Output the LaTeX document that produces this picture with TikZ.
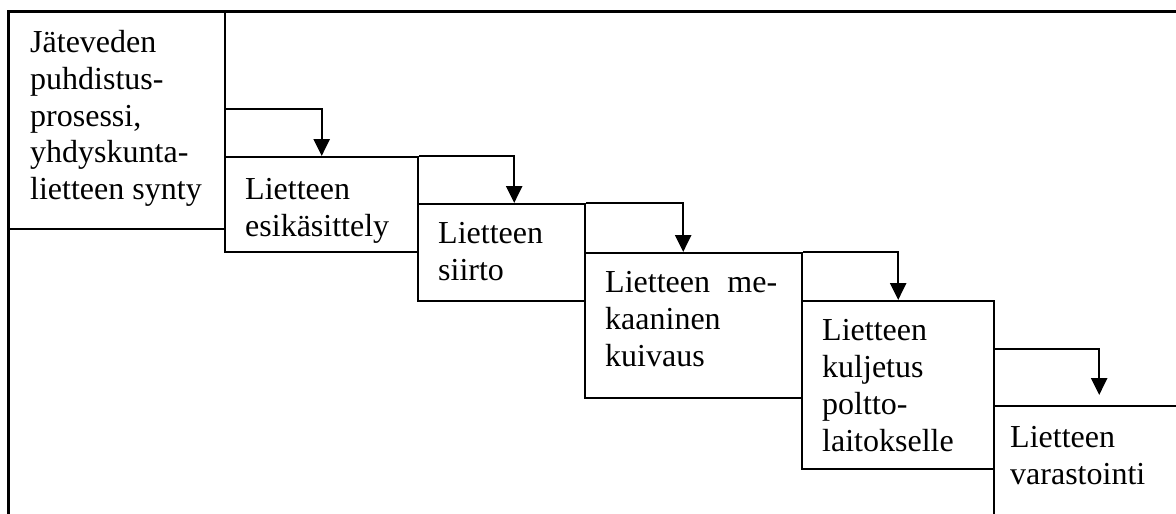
\documentclass[tikz,border=0pt]{standalone}
\usepackage{fontspec}
\setmainfont{Liberation Serif}
\usetikzlibrary{arrows.meta}
\begin{document}
\begin{tikzpicture}[x=1pt,y=-1pt,
  box/.style={draw, line width=2.4pt, rectangle, inner sep=0pt, anchor=north west},
  frameline/.style={line width=3pt},
  arr/.style={line width=2.4pt, -{Triangle[length=17pt,width=16pt]}},
  txt/.style={inner sep=0pt, anchor=base west, font=\fontsize{32}{37}\selectfont}]
\useasboundingbox (0,0) rectangle (1176,514);
\clip (0,0) rectangle (1176,514);
% outer frame (top and left)
\draw[frameline] (8,540) -- (8,11) -- (1200,11);
% process step boxes
\node[box, minimum width=216pt, minimum height=217pt] (b1) at (8,11) {};
\node[box, minimum width=193pt, minimum height=95pt]  (b2) at (224,156) {};
\node[box, minimum width=167pt, minimum height=97pt]  (b3) at (417,203) {};
\node[box, minimum width=217pt, minimum height=145pt] (b4) at (584,252) {};
\node[box, minimum width=192pt, minimum height=168pt] (b5) at (801,300) {};
\node[box, minimum width=220pt, minimum height=140pt] (b6) at (993,405) {};
% step texts
\node[txt] (t1) at ([xshift=22pt,yshift=-41pt]b1.north west)
  {\parbox[t]{200pt}{Jäteveden\\puhdistus-\\prosessi,\\yhdyskunta-\\lietteen synty}};
\node[txt] (t2) at ([xshift=21pt,yshift=-43pt]b2.north west)
  {\parbox[t]{180pt}{Lietteen\\esikäsittely}};
\node[txt] (t3) at ([xshift=21pt,yshift=-40pt]b3.north west)
  {\parbox[t]{150pt}{Lietteen\\siirto}};
\node[txt] (t4) at ([xshift=21pt,yshift=-40pt]b4.north west)
  {\parbox[t]{172pt}{Lietteen\hfill me-\\kaaninen\\kuivaus}};
\node[txt] (t5) at ([xshift=21pt,yshift=-40pt]b5.north west)
  {\parbox[t]{170pt}{Lietteen\\kuljetus\\poltto-\\laitokselle}};
\node[txt] (t6) at ([xshift=17pt,yshift=-42pt]b6.north west)
  {\parbox[t]{160pt}{Lietteen\\varastointi}};
% connectors between steps
\draw[arr] ([yshift=11.5pt]b1.east) -| (b2.north);
\draw[arr] (b2.north east) -| ([xshift=12.5pt]b3.north);
\draw[arr] (b3.north east) -| ([xshift=-10.5pt]b4.north);
\draw[arr] (b4.north east) -| (b5.north);
\coordinate (e5) at ([xshift=-5pt,yshift=10pt]b6.north);
\draw[arr] ([yshift=36pt]b5.east) -| (e5);
\end{tikzpicture}
\end{document}
